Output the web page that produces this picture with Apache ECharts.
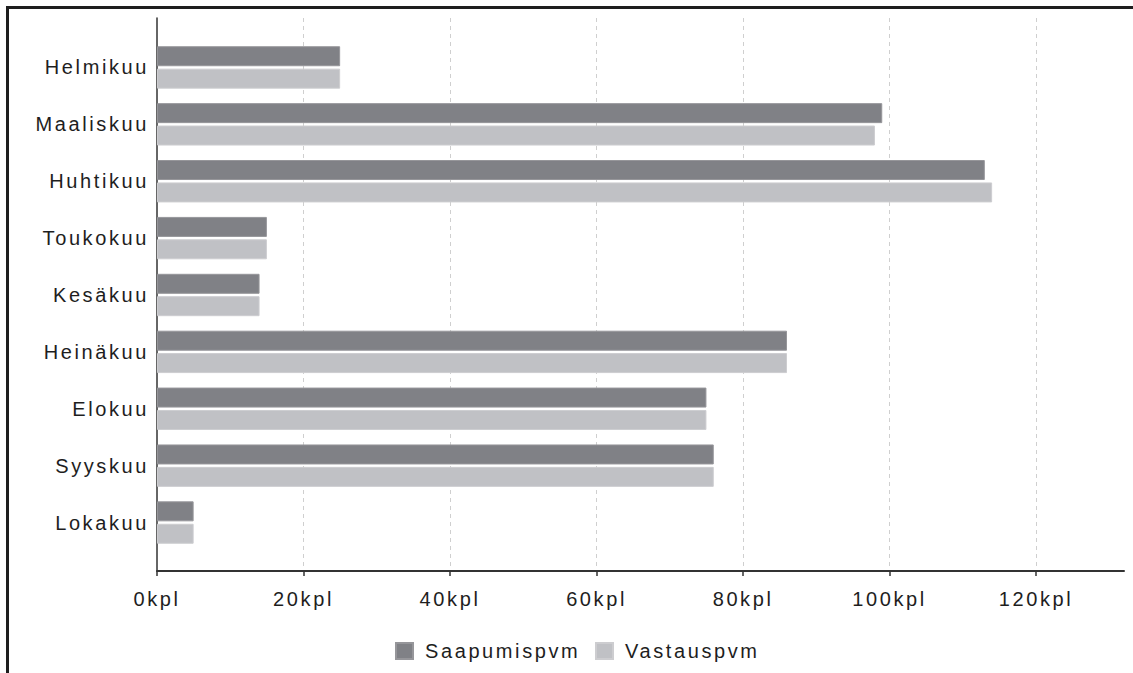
<!DOCTYPE html>
<html><head><meta charset="utf-8">
<script src="https://cdn.jsdelivr.net/npm/echarts@6/dist/echarts.min.js"></script>
<style>
html,body{margin:0;padding:0;background:#fff;}
#frame{position:absolute;left:6px;top:6px;right:0;bottom:0;border-top:3px solid #1e1e1e;border-left:3px solid #1e1e1e;}
#chart{position:absolute;left:0;top:0;width:1133px;height:673px;}
#chart text{letter-spacing:2.6px;}
</style></head><body>
<div id="frame"></div><div id="chart"></div>
<script>
const categories = ['Helmikuu','Maaliskuu','Huhtikuu','Toukokuu','Kesäkuu','Heinäkuu','Elokuu','Syyskuu','Lokakuu'];
const saapumispvm = [25, 99, 113, 15, 14, 86, 75, 76, 5];
const vastauspvm = [25, 98, 114, 15, 14, 86, 75, 76, 5];
const xTicks = [0, 20, 40, 60, 80, 100, 120];
const seriesNames = ['Saapumispvm', 'Vastauspvm'];
const unit = 'kpl';

const FONT = '"Liberation Sans", Arial, sans-serif';
const TXT = '#1e1e1e';
const AX = '#333';
const xMax = 132;

const chart = echarts.init(document.getElementById('chart'), null, {renderer: 'svg'});
const legendBase = {
  orient: 'horizontal', top: 641, itemWidth: 17, itemHeight: 16, icon: 'rect',
  selectedMode: false, padding: 0,
  textStyle: {fontSize: 20, color: TXT, fontFamily: FONT, padding: [0, 0, 0, 7]}
};
chart.setOption({
  backgroundColor: 'transparent',
  animation: false,
  grid: [
    {left: 157, right: 9, top: 39, bottom: 122},
    {left: 157, right: 9, top: 18, bottom: 102}
  ],
  legend: [
    Object.assign({}, legendBase, {data: [seriesNames[0]], left: 395}),
    Object.assign({}, legendBase, {data: [seriesNames[1]], left: 595})
  ],
  xAxis: [
    {type: 'value', gridIndex: 0, min: 0, max: xMax, show: false},
    {type: 'value', gridIndex: 1, min: 0, max: xMax, interval: 20,
     axisLine: {show: true, onZero: false, lineStyle: {color: AX, width: 2}},
     axisTick: {show: true, length: 5, customValues: xTicks, lineStyle: {color: AX, width: 1.5}},
     axisLabel: {show: true, customValues: xTicks, margin: 18,
       fontSize: 20, color: TXT, fontFamily: FONT, formatter: v => v + unit},
     splitLine: {show: true, showMinLine: false,
       lineStyle: {color: '#cfcfcf', width: 1, type: [4, 4]}}}
  ],
  yAxis: [
    {type: 'category', gridIndex: 0, data: categories, inverse: true,
     axisLine: {show: false}, axisTick: {show: false}, splitLine: {show: false},
     axisLabel: {margin: 8, fontSize: 20, color: TXT, fontFamily: FONT}},
    {type: 'value', gridIndex: 1, min: 0, max: 1,
     axisLine: {show: true, onZero: false, lineStyle: {color: AX, width: 1.5}},
     axisTick: {show: false}, axisLabel: {show: false}, splitLine: {show: false}}
  ],
  series: [
    {name: seriesNames[0], type: 'bar', xAxisIndex: 0, yAxisIndex: 0, data: saapumispvm,
     barWidth: 20, barGap: '12%',
     itemStyle: {color: '#808186', borderColor: '#96969a', borderWidth: 1}},
    {name: seriesNames[1], type: 'bar', xAxisIndex: 0, yAxisIndex: 0, data: vastauspvm,
     barWidth: 20, barGap: '12%',
     itemStyle: {color: '#c0c1c5', borderColor: '#cdcdd0', borderWidth: 1}}
  ]
});
</script>
</body></html>
